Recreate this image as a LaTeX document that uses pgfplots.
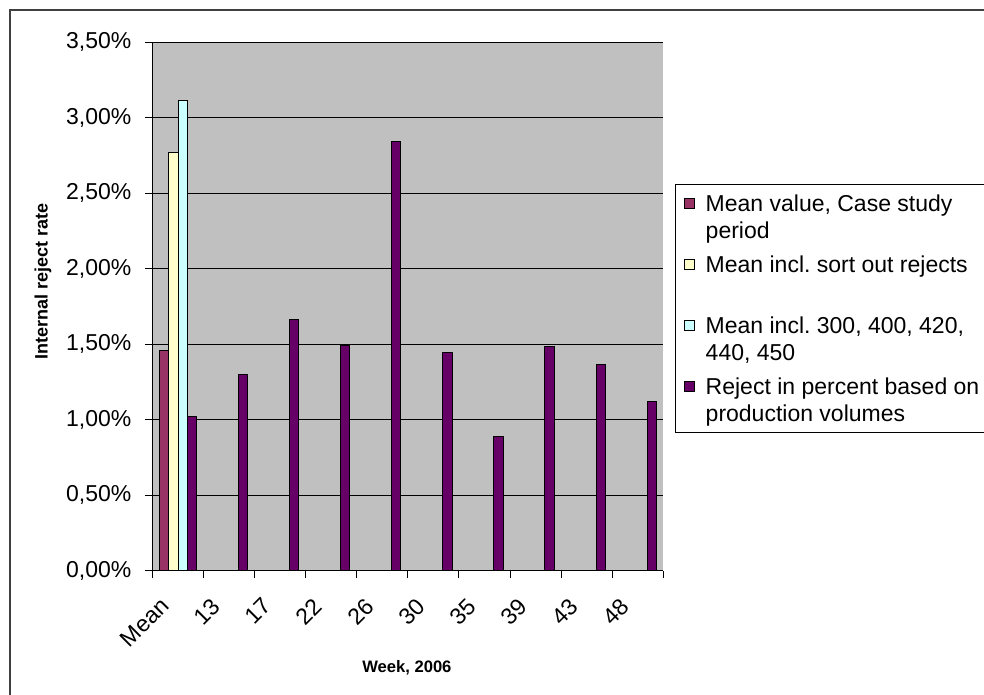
\documentclass[border=0pt]{standalone}
\usepackage{fontspec}
\setmainfont{Liberation Sans}
\usepackage{pgfplots}
\pgfplotsset{compat=1.18}

\definecolor{plotgrey}{HTML}{C0C0C0}
\definecolor{meanred}{HTML}{993366}
\definecolor{meanyellow}{HTML}{FFFFCC}
\definecolor{meancyan}{HTML}{CCFFFF}
\definecolor{rejpurple}{HTML}{660066}

\pgfplotstableread{
x  y
0  1.455
}\meanvalue
\pgfplotstableread{
x  y
0  2.768
}\meansort
\pgfplotstableread{
x  y
0  3.113
}\meanincl
\pgfplotstableread{
x  y
0  1.020
1  1.298
2  1.662
3  1.493
4  2.840
5  1.448
6  0.892
7  1.488
8  1.364
9  1.122
}\reject

\begin{document}
\begin{tikzpicture}
% outer chart frame (top and left edges)
\draw[line width=0.8pt, black!75] (5pt,-5pt) -- (5pt,342.5pt) -- (500pt,342.5pt);

\begin{axis}[
  at={(76.25pt,62.15pt)}, anchor=south west,
  scale only axis, width=255.4pt, height=264.25pt,
  xmin=-0.5, xmax=9.5, ymin=0, ymax=3.5,
  axis x line*=bottom, axis y line*=left,
  axis line style={black, line width=0.6pt},
  axis background/.style={fill=plotgrey},
  ymajorgrids, major grid style={black, line width=0.5pt},
  tick align=outside, major tick length=3.8pt,
  tick style={black, line width=0.5pt},
  ytick={0,0.5,...,3.5},
  yticklabel={\pgfmathprintnumber[fixed,fixed zerofill,precision=2,use comma]{\tick}\%},
  /pgf/number format/assume math mode=true,
  yticklabel style={font=\fontsize{11.5}{13.5}\selectfont, anchor=east, inner sep=0pt, xshift=-6.6pt},
  xtick={-0.5,0.5,...,9.5}, xticklabels={},
  extra x ticks={0,1,2,3,4,5,6,7,8,9},
  extra x tick labels={Mean,13,17,22,26,30,35,39,43,48},
  extra x tick style={major tick length=0pt, grid=none},
  xticklabel style={font=\fontsize{11.5}{13.5}\selectfont, xshift=-9.3pt, yshift=-12.7pt, rotate=45, anchor=north east, inner sep=0pt},
  ylabel={Internal reject rate},
  ylabel style={font=\bfseries\fontsize{9}{11}\selectfont, at={(axis description cs:-0.2144,0.547)}, anchor=center},
  xlabel={Week, 2006},
  xlabel style={font=\bfseries\fontsize{8.3}{10}\selectfont, at={(axis description cs:0.498,-0.184)}, anchor=center},
  legend style={at={(1.0229,0.7317)}, anchor=north west, draw=black, line width=0.5pt, fill=white,
    inner xsep=4pt, inner ysep=2.2pt, row sep=2pt, column sep=3.5pt,
    cells={anchor=west, align=left, inner sep=0pt,
      font=\fontsize{11.5}{13.5}\selectfont\frenchspacing}},
  legend image code/.code={\draw[#1, draw=black, line width=0.4pt] (0pt,4.3pt) rectangle (5.2pt,9.5pt);},
]
\addplot[ybar, bar width=0.1823, bar shift=-0.2735, fill=meanred, draw=black, line width=0.5pt] table[x=x,y=y] {\meanvalue};
\addlegendentry{\strut Mean value, Case study\\\strut period}
\addplot[ybar, bar width=0.1823, bar shift=-0.0912, fill=meanyellow, draw=black, line width=0.5pt] table[x=x,y=y] {\meansort};
\addlegendentry{\strut Mean incl. sort out rejects\\\strut}
\addplot[ybar, bar width=0.1823, bar shift=0.0912, fill=meancyan, draw=black, line width=0.5pt] table[x=x,y=y] {\meanincl};
\addlegendentry{\strut Mean incl. 300, 400, 420,\\\strut 440, 450}
\addplot[ybar, bar width=0.1823, bar shift=0.2735, fill=rejpurple, draw=black, line width=0.5pt] table[x=x,y=y] {\reject};
\addlegendentry{\strut Reject in percent based on\\\strut production volumes}
\end{axis}

\pgfresetboundingbox
\useasboundingbox (0,0) rectangle (492pt,347.5pt);
\end{tikzpicture}
\end{document}
